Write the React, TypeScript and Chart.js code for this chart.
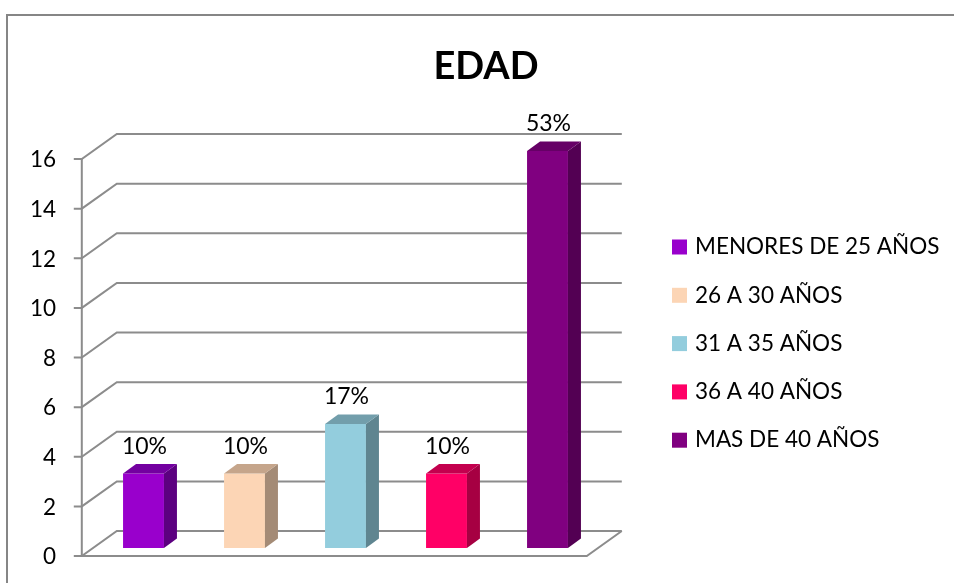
import React, { useEffect, useRef } from 'react';
import { Chart, registerables } from 'chart.js';

Chart.register(...registerables);

// ---- data ----
const chartTitle = 'EDAD';
const categories = ['MENORES DE 25 AÑOS', '26 A 30 AÑOS', '31 A 35 AÑOS', '36 A 40 AÑOS', 'MAS DE 40 AÑOS'];
const counts = [3, 3, 5, 3, 16];
const percentLabels = ['10%', '10%', '17%', '10%', '53%'];
const yMin = 0;
const yMax = 16;
const yStep = 2;

// ---- styles ----
const frontColors = ['#9900CC', '#FCD5B5', '#93CDDD', '#FF0066', '#800080'];
const sideColors = ['#5C0080', '#A48B76', '#5F8590', '#A60042', '#530053'];
const topColors = ['#7300A0', '#C5A58B', '#729EAB', '#C3004E', '#660066'];
const GRID = '#8c8c8c';
const FONT = 'Lato, "Open Sans", "DejaVu Sans", sans-serif';

// 3D geometry (pixels)
const WALL_DX = 35;
const WALL_DY = 25;
const PLANE_T = 0.32; // bars sit at this fraction of the floor depth
const BAR_DX = 13;
const BAR_DY = 9.5;

const threeDPlugin = {
  id: 'threeD',
  beforeDraw(chart: any) {
    const { ctx, width, height } = chart;
    ctx.save();
    ctx.fillStyle = '#ffffff';
    ctx.fillRect(0, 0, width, height);
    ctx.strokeStyle = '#868686';
    ctx.lineWidth = 2;
    ctx.beginPath();
    ctx.moveTo(7, height + 2);
    ctx.lineTo(7, 15);
    ctx.lineTo(width + 2, 15);
    ctx.stroke();
    ctx.restore();
  },
  beforeDatasetsDraw(chart: any) {
    const { ctx, chartArea } = chart;
    const y = chart.scales.y;
    const offX = WALL_DX * PLANE_T;
    const offY = WALL_DY * PLANE_T;
    const fl = chartArea.left - offX;
    const fr = chartArea.right - offX;
    ctx.save();
    ctx.strokeStyle = GRID;
    ctx.lineWidth = 2;
    ctx.lineJoin = 'miter';
    y.ticks.forEach((t: any) => {
      const fy = y.getPixelForValue(t.value) + offY;
      const by = fy - WALL_DY;
      ctx.beginPath();
      ctx.moveTo(fl - 8, fy);
      ctx.lineTo(fl, fy);
      ctx.lineTo(fl + WALL_DX, by);
      ctx.lineTo(fr + WALL_DX, by);
      ctx.stroke();
    });
    const f0 = y.getPixelForValue(yMin) + offY;
    const ftop = y.getPixelForValue(yMax) + offY;
    ctx.beginPath();
    ctx.moveTo(fl, f0);
    ctx.lineTo(fr, f0);
    ctx.lineTo(fr + WALL_DX, f0 - WALL_DY);
    ctx.stroke();
    ctx.beginPath();
    ctx.moveTo(fl, ftop);
    ctx.lineTo(fl, f0);
    ctx.stroke();
    ctx.restore();
  },
  afterDatasetsDraw(chart: any) {
    const { ctx } = chart;
    const meta = chart.getDatasetMeta(0);
    ctx.save();
    meta.data.forEach((bar: any, i: number) => {
      const p = bar.getProps(['x', 'y', 'base', 'width'], true);
      const l = p.x - p.width / 2;
      const r = p.x + p.width / 2;
      const top = p.y;
      const base = p.base;
      ctx.fillStyle = sideColors[i];
      ctx.beginPath();
      ctx.moveTo(r, top);
      ctx.lineTo(r + BAR_DX, top - BAR_DY);
      ctx.lineTo(r + BAR_DX, base - BAR_DY);
      ctx.lineTo(r, base);
      ctx.closePath();
      ctx.fill();
      ctx.fillStyle = topColors[i];
      ctx.beginPath();
      ctx.moveTo(l, top);
      ctx.lineTo(l + BAR_DX, top - BAR_DY);
      ctx.lineTo(r + BAR_DX, top - BAR_DY);
      ctx.lineTo(r, top);
      ctx.closePath();
      ctx.fill();
      ctx.fillStyle = '#000000';
      ctx.font = `23px ${FONT}`;
      ctx.textAlign = 'center';
      ctx.textBaseline = 'alphabetic';
      ctx.fillText(percentLabels[i], p.x + 1, top - 20);
    });
    ctx.restore();
  },
  afterDraw(chart: any) {
    const { ctx } = chart;
    ctx.save();
    // title
    ctx.fillStyle = '#000000';
    ctx.font = `bold 38px ${FONT}`;
    ctx.textAlign = 'center';
    ctx.textBaseline = 'alphabetic';
    ctx.fillText(chartTitle, 486, 79);
    // legend
    ctx.font = `22.5px ${FONT}`;
    ctx.textAlign = 'left';
    ctx.textBaseline = 'middle';
    categories.forEach((c, i) => {
      const cy = 247 + i * 48.3;
      ctx.fillStyle = frontColors[i];
      ctx.fillRect(672, cy - 7.5, 15, 15);
      ctx.fillStyle = '#000000';
      ctx.fillText(c, 695, cy);
    });
    ctx.restore();
  },
};

export default function App() {
  const canvasRef = useRef<HTMLCanvasElement | null>(null);

  useEffect(() => {
    const canvas = canvasRef.current;
    if (!canvas) return;
    const chart = new Chart(canvas, {
      type: 'bar',
      data: {
        labels: categories,
        datasets: [
          {
            label: chartTitle,
            data: counts,
            backgroundColor: frontColors,
            borderWidth: 0,
            categoryPercentage: 1,
            barPercentage: 0.405,
          },
        ],
      },
      options: {
        responsive: false,
        animation: false,
        layout: { padding: { left: 0, right: 356, top: 151, bottom: 35 } },
        plugins: {
          legend: { display: false },
          title: { display: false },
          tooltip: { enabled: false },
        },
        scales: {
          x: { display: false },
          y: {
            min: yMin,
            max: yMax,
            ticks: {
              stepSize: yStep,
              padding: 37,
              labelOffset: 9,
              color: '#000000',
              font: { family: FONT, size: 22.5 },
            },
            grid: { display: false, drawTicks: false },
            border: { display: false },
            afterFit: (scale: any) => {
              scale.width = 93;
              scale.paddingTop = 0;
              scale.paddingBottom = 0;
            },
          },
        },
      },
      plugins: [threeDPlugin],
    });
    return () => chart.destroy();
  }, []);

  return (
    <div style={{ position: 'absolute', left: 0, top: 0, width: 954, height: 583 }}>
      <canvas ref={canvasRef} width={954} height={583} style={{ display: 'block' }} />
    </div>
  );
}
